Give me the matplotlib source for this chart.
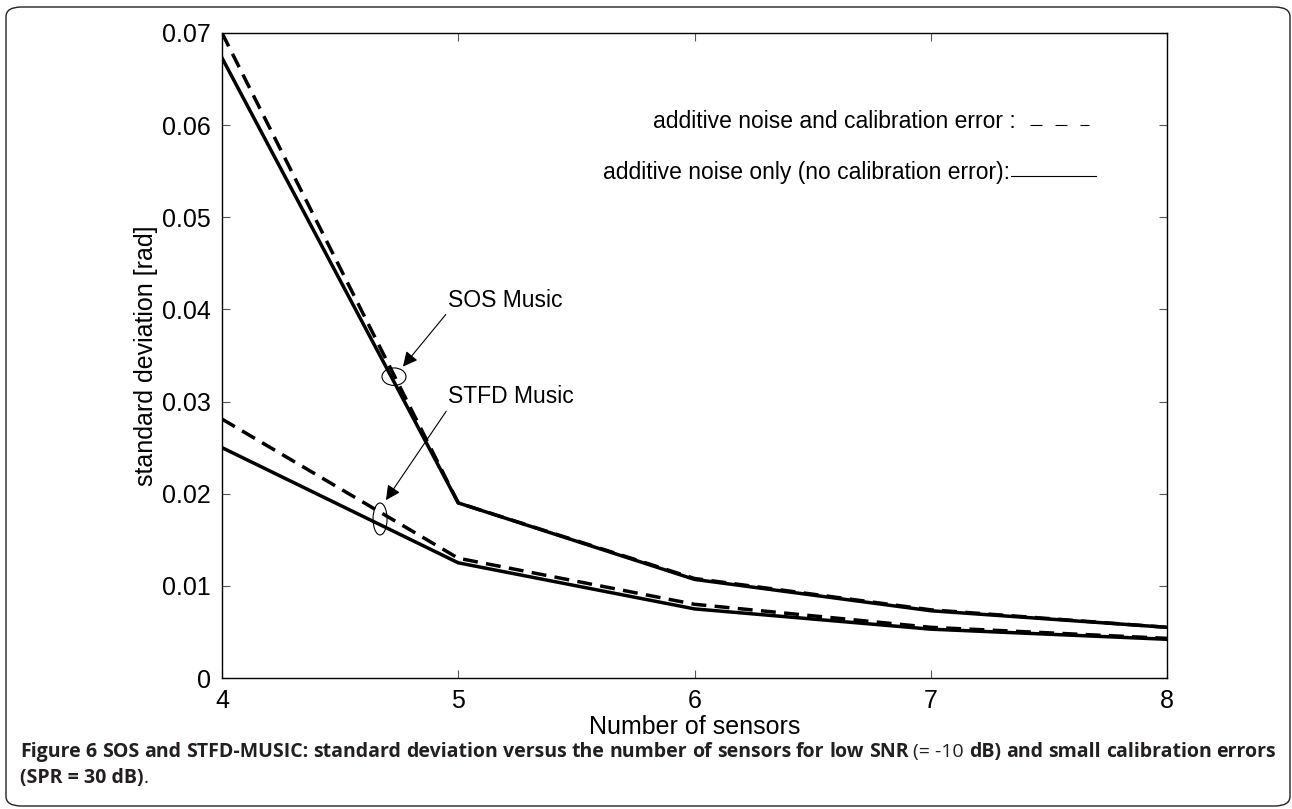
import matplotlib
matplotlib.use("Agg")
import matplotlib.pyplot as plt
from matplotlib.patches import Ellipse, FancyBboxPatch
import numpy as np

sensors = [4, 5, 6, 7, 8]
sos_calib = [0.0700, 0.0190, 0.0108, 0.0074, 0.0055]
sos_noise = [0.0673, 0.0190, 0.0107, 0.0073, 0.0055]
stfd_calib = [0.0281, 0.0130, 0.0080, 0.0055, 0.0043]
stfd_noise = [0.0250, 0.0125, 0.0075, 0.0053, 0.0042]
yticks = [0, 0.01, 0.02, 0.03, 0.04, 0.05, 0.06, 0.07]
ytick_labels = ["0", "0.01", "0.02", "0.03", "0.04", "0.05", "0.06", "0.07"]
xticks = [4, 5, 6, 7, 8]

W, H = 1292, 809
fig = plt.figure(figsize=(W / 100, H / 100), dpi=100)
plt.rcParams['font.family'] = ['Liberation Sans', 'DejaVu Sans']

ax = fig.add_axes([222 / W, 1 - 678 / H, (1167 - 222) / W, (678 - 33) / H])

lw = 2.5
ax.plot(sensors, sos_calib, color='black', lw=lw, dashes=(4.3, 2.4))
ax.plot(sensors, sos_noise, color='black', lw=lw)
ax.plot(sensors, stfd_calib, color='black', lw=lw, dashes=(4.3, 2.4))
ax.plot(sensors, stfd_noise, color='black', lw=lw)

ax.set_xlim(4, 8)
ax.set_ylim(0, 0.07)
ax.set_xticks(xticks)
ax.set_xticklabels([str(x) for x in xticks])
ax.set_yticks(yticks)
ax.set_yticklabels(ytick_labels)
ax.tick_params(direction='in', length=6, width=0.8, color='#555555',
               top=True, right=True, labelsize=18, pad=8)
for s in ax.spines.values():
    s.set_linewidth(1.0)
ax.set_xlabel('Number of sensors', fontsize=18, labelpad=1)
ax.set_ylabel('standard deviation [rad]', fontsize=18, labelpad=3)

# legend-like labels
ax.text(7.36, 0.0604, 'additive noise and calibration error :', fontsize=16.5,
        ha='right', va='center')
ax.plot([7.42, 7.67], [0.0600, 0.0600], color='black', lw=0.8, dashes=(10.8, 11.7))
ax.text(7.335, 0.0549, 'additive noise only (no calibration error):', fontsize=16.5,
        ha='right', va='center')
ax.plot([7.34, 7.70], [0.0545, 0.0545], color='black', lw=0.8)

# annotations
ax.annotate('SOS Music', xy=(4.766, 0.0338), xytext=(4.957, 0.0410),
            fontsize=16.5, ha='left', va='center',
            arrowprops=dict(arrowstyle='-|>', lw=0.8, color='black',
                            mutation_scale=22, shrinkA=0, shrinkB=0,
                            relpos=(0, 0)))
ax.annotate('STFD Music', xy=(4.694, 0.0193), xytext=(4.957, 0.0305),
            fontsize=16.5, ha='left', va='center',
            arrowprops=dict(arrowstyle='-|>', lw=0.8, color='black',
                            mutation_scale=22, shrinkA=0, shrinkB=0,
                            relpos=(0, 0)))
ax.add_patch(Ellipse((4.728, 0.0327), 0.1016, 0.00190, fill=False, lw=0.8, color='black'))
ax.add_patch(Ellipse((4.669, 0.01726), 0.0593, 0.00347, fill=False, lw=0.8, color='black'))

# frame
frame = FancyBboxPatch((6 / W, 1 - 806 / H), (1290 - 6) / W, (806 - 7) / H,
                       boxstyle='round,pad=0,rounding_size=0.012',
                       transform=fig.transFigure, fill=False, lw=1.0,
                       edgecolor='#222222')
fig.patches.append(frame)

# caption (justified line 1)
cap_font = ['Open Sans', 'DejaVu Sans']
cap_color = '#231f20'
cap_size = 14
line1 = [("Figure", 'bold'), ("6", 'bold'), ("SOS", 'bold'), ("and", 'bold'),
         ("STFD-MUSIC:", 'bold'), ("standard", 'bold'), ("deviation", 'bold'),
         ("versus", 'bold'), ("the", 'bold'), ("number", 'bold'), ("of", 'bold'),
         ("sensors", 'bold'), ("for", 'bold'), ("low", 'bold'), ("SNR", 'bold'),
         ("(= -10", 'normal'), ("dB)", 'bold'), ("and", 'bold'), ("small", 'bold'),
         ("calibration", 'bold'), ("errors", 'bold')]
x0, x1 = 20, 1276
y1 = 1 - 752 / H
y2 = 1 - 778 / H
renderer = fig.canvas.get_renderer()
objs = []
for word, wt in line1:
    t = fig.text(0, y1, word, fontsize=cap_size, fontweight=wt, family=cap_font,
                 color=cap_color, va='center', ha='left')
    objs.append(t)
widths = [t.get_window_extent(renderer).width for t in objs]
gap = (x1 - x0 - sum(widths)) / (len(objs) - 1)
x = x0
for t, w in zip(objs, widths):
    t.set_x(x / W)
    x += w + gap

t2 = fig.text(x0 / W, y2, "(SPR = 30 dB)", fontsize=cap_size, fontweight='bold',
              family=cap_font, color=cap_color, va='center', ha='left')
w2 = t2.get_window_extent(renderer).width
fig.text((x0 + w2) / W, y2, ".", fontsize=cap_size, fontweight='normal',
         family=cap_font, color=cap_color, va='center', ha='left')

fig.savefig('out.png', dpi=100)
